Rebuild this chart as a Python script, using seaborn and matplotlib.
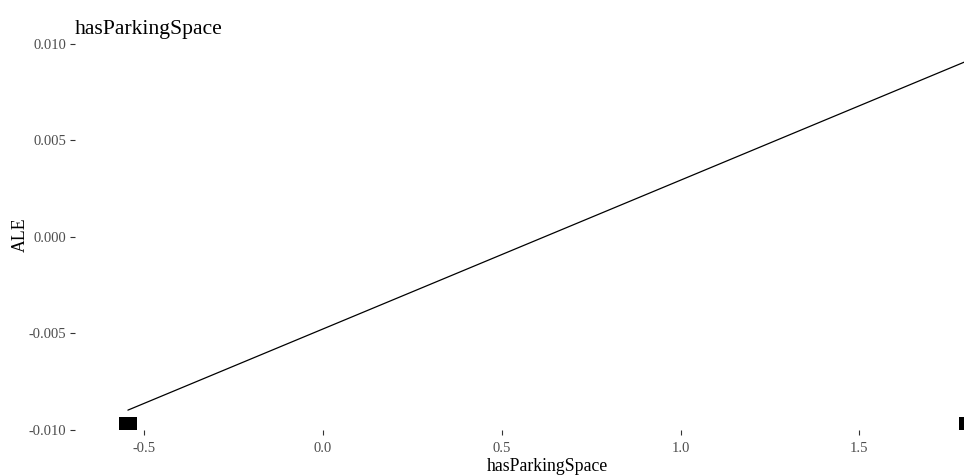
import matplotlib
matplotlib.use("Agg")
import matplotlib.pyplot as plt
import seaborn as sns
import pandas as pd

# ALE curve for hasParkingSpace (standardised feature)
feature_x = [-0.546, 1.805]
ale_values = [-0.00897, 0.00914]
rug_x = [-0.546, 1.805]

x_ticks = [-0.5, 0.0, 0.5, 1.0, 1.5]
y_ticks = [-0.010, -0.005, 0.000, 0.005, 0.010]

sns.set_theme(style="white")
plt.rcParams["font.family"] = ["Liberation Serif", "DejaVu Serif"]

fig = plt.figure(figsize=(9.64, 4.76), dpi=100)
# panel runs past the right edge of the canvas
ax = fig.add_axes([0.0778, 0.0966, 0.9793, 0.8194])

curve = pd.DataFrame({"x": feature_x, "ale": ale_values})
sns.lineplot(data=curve, x="x", y="ale", color="black", linewidth=0.9, ax=ax)

# rug marks for the observed feature values, drawn as filled blocks at the panel floor
ax.bar(rug_x, 0.00068, bottom=-0.0100, width=0.05, color="black", linewidth=0)

ax.set_xlim(-0.694, 1.947)
ax.set_ylim(-0.0100, 0.0102)
ax.set_xticks(x_ticks)
ax.set_xticklabels([f"{v:.1f}" for v in x_ticks])
ax.set_yticks(y_ticks)
ax.set_yticklabels([f"{v:.3f}" for v in y_ticks])
ax.tick_params(axis="both", which="both", length=3.5, width=0.8, color="#333333",
               labelsize=10.5, labelcolor="#4D4D4D", pad=3,
               bottom=True, left=True)
ax.tick_params(axis="x", pad=5)
for s in ax.spines.values():
    s.set_visible(False)

ax.set_xlabel("hasParkingSpace", fontsize=12.8, color="black", labelpad=2)
ax.set_ylabel("ALE", fontsize=12.8, color="black", labelpad=0)
ax.set_title("hasParkingSpace", loc="left", fontsize=15.6, color="black", pad=4)

fig.savefig("out.png", dpi=100)
